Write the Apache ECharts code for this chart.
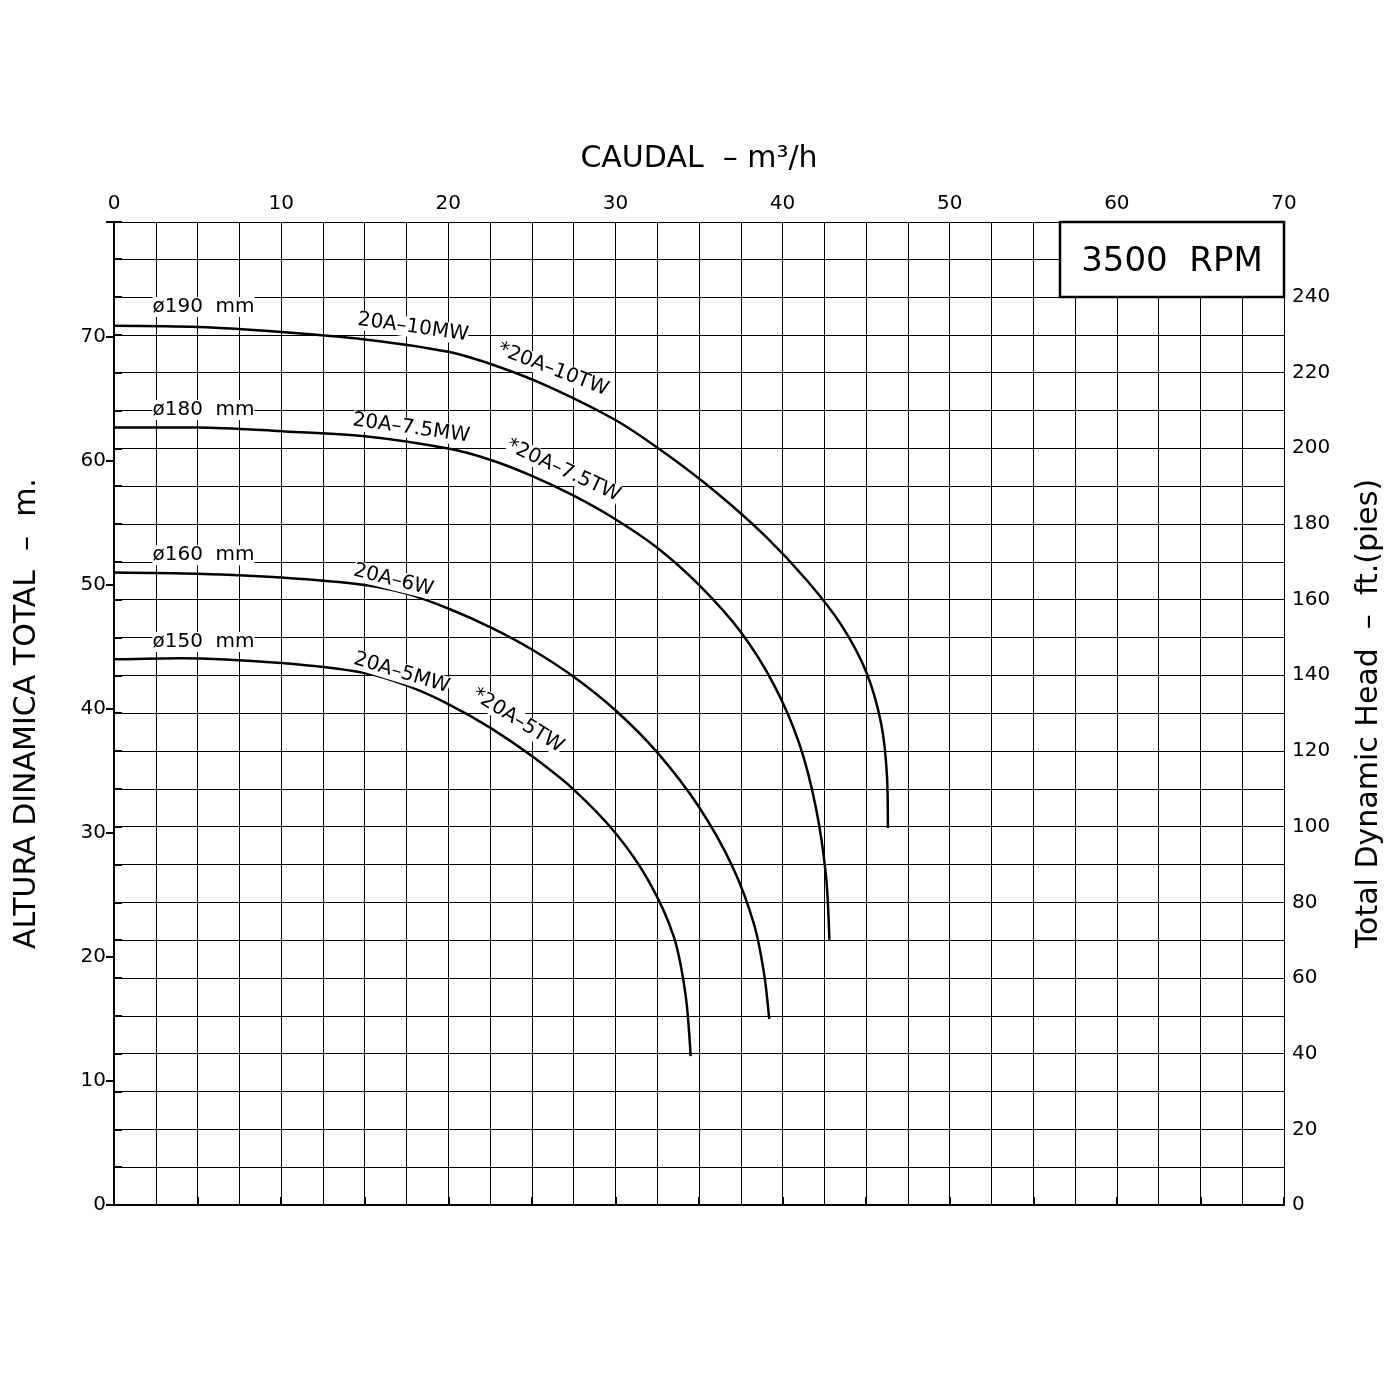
<!DOCTYPE html>
<html><head><meta charset="utf-8">
<script src="https://cdn.jsdelivr.net/npm/echarts@6/dist/echarts.min.js"></script>
<style>html,body{margin:0;background:#fff}#c{width:1394px;height:1394px}</style>
</head><body><div id="c"></div>
<script>
const c190 = [[0,70.9],[5,70.8],[10,70.4],[15,69.8],[20,68.8],[23,67.6],[26,66.0],[30,63.3],[33,60.6],[36,57.5],[39,53.9],[41.5,50.3],[43.5,46.8],[45,43.0],[45.9,38.8],[46.25,34.5],[46.3,30.4]];
const c180 = [[0,62.7],[5,62.7],[10,62.4],[15,62.0],[20,61.0],[22.5,60.1],[25,58.8],[27.5,57.2],[30,55.3],[32.5,53.0],[35,50.0],[37.5,46.2],[39.5,41.9],[41,37.2],[42,32.0],[42.6,26.5],[42.8,21.4]];
const c160 = [[0,51.0],[5,50.9],[10,50.6],[15,50.0],[17.5,49.3],[20,48.1],[22.5,46.6],[25,44.8],[27.5,42.6],[30,39.9],[32.5,36.5],[35,32.1],[37,27.3],[38.3,22.6],[38.9,18.6],[39.2,15.0]];
const c150 = [[0,44.0],[4,44.1],[10,43.7],[15,42.9],[17.5,41.9],[20,40.4],[22.5,38.5],[25,36.2],[27.5,33.5],[30,30.0],[32,26.1],[33.5,21.6],[34.2,16.9],[34.5,12.0]];
const xTicks = [0,10,20,30,40,50,60,70];
const mTicks = [0,10,20,30,40,50,60,70];
const ftTicks = [0,20,40,60,80,100,120,140,160,180,200,220,240];
const F = 'DejaVu Sans';
const chart = echarts.init(document.getElementById('c'));
const ln = d => ({type:'line',data:d,smooth:0.3,showSymbol:false,lineStyle:{color:'#000',width:2.5},xAxisIndex:0,yAxisIndex:0,z:5});
chart.setOption({
  animation:false,
  grid:{left:114,right:110,top:222,bottom:189},
  xAxis:[
    {type:'value',position:'bottom',min:0,max:70,interval:2.5,axisLabel:{show:false},axisTick:{show:false},
     axisLine:{lineStyle:{color:'#000',width:2}},splitLine:{show:true,lineStyle:{color:'#000',width:1}}},
    {type:'value',position:'top',min:0,max:70,interval:5,
     name:'CAUDAL  – m³/h',nameLocation:'middle',nameGap:48,nameTextStyle:{fontFamily:F,fontSize:30,color:'#000'},
     axisLabel:{fontFamily:F,fontSize:20,color:'#000',formatter:v=>xTicks.includes(v)?String(v):''},
     axisTick:{length:8,lineStyle:{color:'#000',width:2}},axisLine:{lineStyle:{color:'#000',width:2}},splitLine:{show:false}}
  ],
  yAxis:[
    {type:'value',position:'left',min:0,max:79.27,interval:10,
     name:'ALTURA DINAMICA TOTAL  –  m.',nameLocation:'middle',nameGap:72,nameTextStyle:{fontFamily:F,fontSize:30,color:'#000'},
     axisLabel:{fontFamily:F,fontSize:20,color:'#000',formatter:v=>mTicks.includes(v)?String(v):''},
     axisTick:{length:8,lineStyle:{color:'#000',width:2}},axisLine:{show:true,lineStyle:{color:'#000',width:2}},splitLine:{show:false}},
    {type:'value',position:'right',min:0,max:259.8,interval:10,
     name:'Total Dynamic Head  –  ft.(pies)',nameLocation:'middle',nameGap:70,nameRotate:90,nameTextStyle:{fontFamily:F,fontSize:30,color:'#000'},
     axisLabel:{fontFamily:F,fontSize:20,color:'#000',formatter:v=>ftTicks.includes(v)?String(v):''},
     axisTick:{length:8,lineStyle:{color:'#000',width:2}},axisLine:{show:true,lineStyle:{color:'#000',width:2}},
     splitLine:{show:true,lineStyle:{color:'#000',width:1}}}
  ],
  series:[ln(c190),ln(c180),ln(c160),ln(c150)]
});
const P = (x,y)=>chart.convertToPixel({xAxisIndex:0,yAxisIndex:0},[x,y]);
const labels = [
  ['ø190  mm',2.3,71.6,0],['20A–10MW',14.5,70.6,-8],['*20A–10TW',22.8,68.3,-21],
  ['ø180  mm',2.3,63.3,0],['20A–7.5MW',14.2,62.5,-8],['*20A–7.5TW',23.3,60.6,-25],
  ['ø160  mm',2.3,51.6,0],['20A–6W',14.2,50.4,-14],
  ['ø150  mm',2.3,44.6,0],['20A–5MW',14.2,43.3,-17],['*20A–5TW',21.2,40.6,-32]
];
const g = labels.map(([t,x,y,r])=>{const p=P(x,y);return {type:'text',x:p[0],y:p[1],rotation:r*Math.PI/180,
  style:{text:t,fontFamily:F,fontSize:20,fill:'#000',textVerticalAlign:'bottom',backgroundColor:'#fff'},z:10};});
g.push({type:'rect',shape:{x:1060,y:222,width:224,height:75},style:{fill:'#fff',stroke:'#000',lineWidth:2.5},z:10});
g.push({type:'text',x:1172,y:262,style:{text:'3500  RPM',fontFamily:F,fontSize:34,fill:'#000',textAlign:'center',textVerticalAlign:'middle'},z:11});
chart.setOption({graphic:g});
</script></body></html>
